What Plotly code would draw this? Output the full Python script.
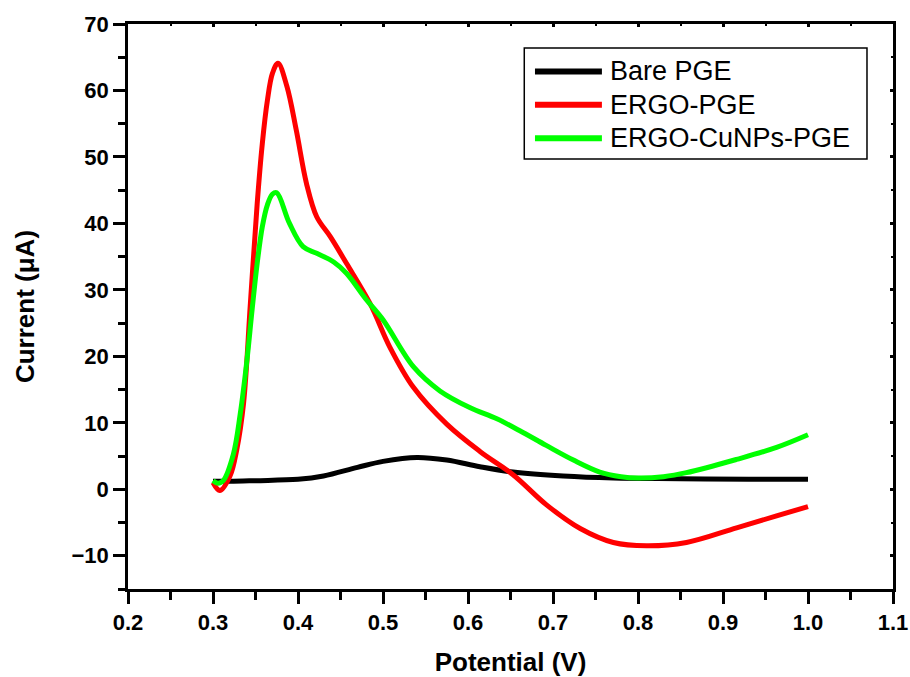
import plotly.graph_objects as go

# ---- data ----
bare_x = [0.30, 0.32, 0.35, 0.40, 0.43, 0.47, 0.50, 0.54, 0.575, 0.614, 0.653, 0.712, 0.771, 0.85, 0.93, 1.0]
bare_y = [1.2, 1.2, 1.3, 1.5, 2.0, 3.3, 4.2, 4.8, 4.4, 3.4, 2.6, 2.0, 1.7, 1.6, 1.5, 1.5]

ergo_x = [0.300, 0.308, 0.320, 0.328, 0.336, 0.344, 0.352, 0.358, 0.364, 0.370, 0.3765, 0.387, 0.398,
          0.410, 0.422, 0.438, 0.457, 0.485, 0.508, 0.536, 0.575, 0.614, 0.653, 0.692, 0.732,
          0.771, 0.810, 0.857, 0.916, 0.963, 1.0]
ergo_y = [1.0, -0.2, 2.0, 6.0, 13.0, 28.0, 43.0, 52.0, 58.5, 62.6, 64.1, 60.6, 54.0,
          46.0, 41.0, 38.0, 34.0, 27.9, 21.4, 15.3, 9.8, 5.7, 2.2, -2.3, -5.9,
          -8.0, -8.5, -8.0, -5.8, -4.0, -2.6]

cu_x = [0.300, 0.306, 0.312, 0.324, 0.332, 0.340, 0.346, 0.352, 0.358, 0.364, 0.370, 0.375, 0.390,
        0.406, 0.422, 0.442, 0.457, 0.480, 0.500, 0.536, 0.567, 0.602, 0.634, 0.661, 0.692,
        0.724, 0.755, 0.780, 0.800, 0.830, 0.857, 0.916, 0.963, 1.0]
cu_y = [1.3, 0.9, 1.3, 5.3, 11.3, 19.5, 27.0, 34.0, 39.5, 42.8, 44.4, 44.6, 40.0,
        36.5, 35.5, 34.2, 32.5, 28.6, 25.5, 18.4, 14.8, 12.3, 10.6, 8.8, 6.6,
        4.4, 2.6, 1.9, 1.7, 1.9, 2.5, 4.5, 6.3, 8.2]

series_names = ["Bare PGE", "ERGO-PGE", "ERGO-CuNPs-PGE"]
series_colors = ["#000000", "#ff0000", "#00ff00"]

x_range = [0.2, 1.1]
y_range = [-15, 70]
x_ticks = [0.2, 0.3, 0.4, 0.5, 0.6, 0.7, 0.8, 0.9, 1.0, 1.1]
y_ticks = [-10, 0, 10, 20, 30, 40, 50, 60, 70]

FONT = "Liberation Sans, Arial, sans-serif"

fig = go.Figure()
for xs, ys, name, col in zip([bare_x, ergo_x, cu_x], [bare_y, ergo_y, cu_y], series_names, series_colors):
    fig.add_trace(go.Scatter(x=xs, y=ys, mode="lines", name=name, showlegend=False,
                             line=dict(color=col, width=5, shape="spline", smoothing=1.0)))

# empty trace to activate mirrored (top/right) axes with small inward ticks
fig.add_trace(go.Scatter(x=[], y=[], xaxis="x2", yaxis="y2", showlegend=False, hoverinfo="skip"))

axis_common = dict(showgrid=False, zeroline=False, showline=True, linecolor="black", linewidth=2.5,
                   tickcolor="black", tickwidth=2.5, ticklen=12)

# ---- custom legend box (paper coords) ----
L_left, L_right, L_top, L_bot = 0.518, 0.966, 0.9575, 0.761
fig.add_shape(type="rect", xref="paper", yref="paper", x0=L_left, x1=L_right, y0=L_bot, y1=L_top,
              line=dict(color="black", width=1.5), fillcolor="white", layer="above")
row_y = [0.916, 0.857, 0.798]
for name, col, ry in zip(series_names, series_colors, row_y):
    fig.add_shape(type="line", xref="paper", yref="paper", x0=0.5320, x1=0.6195, y0=ry, y1=ry,
                  line=dict(color=col, width=6), layer="above")
    fig.add_annotation(text=name, xref="paper", yref="paper", x=0.627, y=ry, xanchor="left",
                       yanchor="middle", showarrow=False,
                       font=dict(size=27, family=FONT, color="black"))

fig.update_layout(
    width=910, height=677,
    margin=dict(l=128, r=17, t=24, b=88),
    paper_bgcolor="white", plot_bgcolor="white",
    font=dict(family=FONT, color="black"),
    xaxis=dict(range=x_range, tickvals=x_ticks, tickformat=".1f", ticks="outside",
               tickfont=dict(size=22, weight="bold", family=FONT),
               minor=dict(dtick=0.05, tick0=0.2, ticks="outside", ticklen=8, tickwidth=2.5, tickcolor="black"),
               title=dict(text="Potential (V)", font=dict(size=26, weight="bold", family=FONT), standoff=24),
               automargin=False, **axis_common),
    yaxis=dict(range=y_range, tickvals=y_ticks, ticks="outside",
               tickfont=dict(size=22, weight="bold", family=FONT),
               minor=dict(dtick=5, tick0=-15, ticks="outside", ticklen=7, tickwidth=2.5, tickcolor="black"),
               title=dict(text="Current (μA)", font=dict(size=26, weight="bold", family=FONT), standoff=30),
               automargin=False, **axis_common),
    xaxis2=dict(range=x_range, overlaying="x", side="top", tickvals=x_ticks, ticks="inside",
                showticklabels=False,
                minor=dict(dtick=0.05, tick0=0.2, ticks="inside", ticklen=2, tickwidth=2, tickcolor="black"),
                **{**axis_common, "ticklen": 3}),
    yaxis2=dict(range=y_range, overlaying="y", side="right", tickvals=y_ticks, ticks="inside",
                showticklabels=False,
                minor=dict(dtick=5, tick0=-15, ticks="inside", ticklen=2, tickwidth=2, tickcolor="black"),
                **{**axis_common, "ticklen": 3}),
    showlegend=False,
)

fig.write_html("out.html")
